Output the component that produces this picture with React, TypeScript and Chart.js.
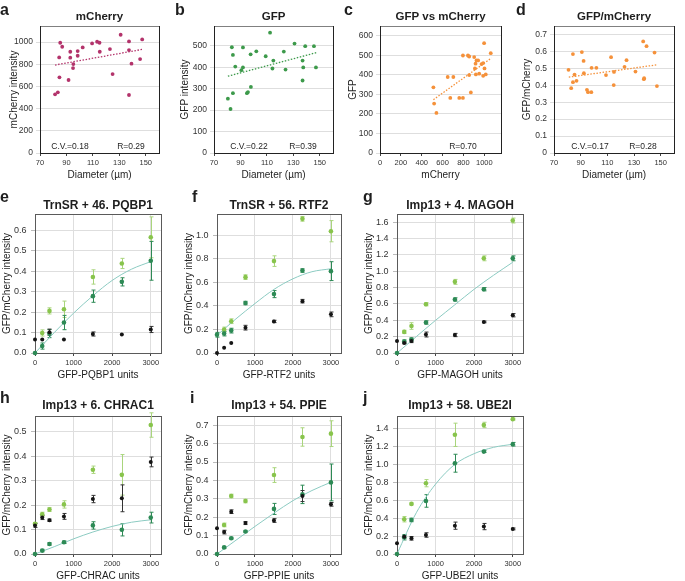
import React, { useEffect, useRef } from 'react';
import { Chart, registerables } from 'chart.js';

Chart.register(...registerables);

const FONT = "'Liberation Sans', Arial, Helvetica, sans-serif";
Chart.defaults.font.family = FONT;
Chart.defaults.color = '#333';

// ---------------- Row 1 data (single cells) ----------------
const diameterA = [81.4, 83.5, 85.3, 86.8, 84.5, 84.7, 91.6, 92.9, 92.9, 95.2, 95.0, 98.5, 98.5, 102.3, 109.4, 113.2, 115.0, 115.2, 122.9, 124.9, 131.0, 137.3, 137.3, 139.2, 137.3, 145.7, 147.3];
const mcherryA = [529, 547, 994, 958, 862, 682, 658, 913, 859, 802, 766, 919, 877, 952, 988, 1003, 994, 913, 937, 712, 1066, 1006, 928, 805, 523, 847, 1024];
const trendAx = [81.4, 147.3];
const trendAy = [793, 934];

const diameterB = [80.5, 82.5, 83.5, 84.3, 84.3, 86.1, 90.7, 91.9, 91.9, 94.9, 95.7, 97.7, 97.9, 102.0, 109.1, 112.4, 114.9, 114.2, 122.8, 124.1, 130.9, 137.0, 137.5, 137.0, 139.0, 145.6, 147.1];
const gfpB = [253, 205, 493, 457, 279, 403, 386, 399, 492, 279, 284, 460, 308, 474, 451, 561, 431, 394, 473, 389, 510, 431, 399, 338, 498, 498, 399];
const trendBx = [80.5, 147.5];
const trendBy = [358, 468];

const mcherryC = [512, 519, 541, 649, 674, 703, 760, 795, 795, 843, 855, 855, 871, 903, 910, 916, 925, 941, 919, 951, 973, 989, 998, 1002, 989, 1014, 1062];
const gfpC = [336, 253, 205, 389, 282, 389, 282, 282, 499, 499, 494, 399, 310, 491, 433, 457, 474, 474, 402, 406, 455, 460, 562, 433, 395, 402, 511];
const trendCx = [512, 1068];
const trendCy = [273, 486];

const diameterD = [80.9, 82.9, 84.2, 84.2, 85.4, 86.9, 90.9, 92.2, 92.4, 94.7, 95.5, 98.0, 98.2, 101.8, 109.0, 112.8, 114.8, 115.0, 122.9, 124.4, 131.1, 136.9, 137.4, 137.6, 139.4, 145.4, 147.2];
const ratioD = [0.491, 0.383, 0.584, 0.418, 0.463, 0.426, 0.596, 0.544, 0.471, 0.373, 0.359, 0.359, 0.503, 0.503, 0.460, 0.566, 0.401, 0.479, 0.509, 0.548, 0.481, 0.659, 0.436, 0.442, 0.631, 0.593, 0.395];
const trendDx = [81.1, 147.4];
const trendDy = [0.448, 0.521];

const diameterTicks = [70, 90, 110, 130, 150];
const mcherryTicks = [0, 200, 400, 600, 800, 1000];
const gfpTicksB = [0, 100, 200, 300, 400, 500];
const gfpTicksC = [0, 100, 200, 300, 400, 500, 600];
const ratioTicksD = [0, 0.1, 0.2, 0.3, 0.4, 0.5, 0.6, 0.7];

// ---------------- Rows 2-3 data (titrations) ----------------
const doses = [0, 187.5, 375, 750, 1500, 2250, 3000];
const curveX = [0, 500, 1000, 1500, 2000, 2500, 3000];
const unitTicks = [0, 1000, 2000, 3000];

const lightE = [null, 0.098, 0.206, 0.214, 0.372, 0.438, 0.566];
const errLightE = [0, 0.015, 0.015, 0.04, 0.035, 0.025, 0.1];
const darkE = [0, 0.034, 0.095, 0.149, 0.278, 0.348, 0.451];
const errDarkE = [0, 0.015, 0.02, 0.035, 0.03, 0.02, 0.095];
const blackE = [0.066, 0.066, 0.102, 0.066, 0.093, 0.09, 0.115];
const errBlackE = [0, 0, 0.015, 0, 0.01, 0, 0.015];
const curveE = [0, 0.1, 0.195, 0.28, 0.355, 0.41, 0.447];
const yTicksE = [0, 0.1, 0.2, 0.3, 0.4, 0.5, 0.6];

const lightF = [null, 0.2, 0.27, 0.644, 0.78, 1.139, 1.034];
const errLightF = [0, 0.02, 0.02, 0.02, 0.045, 0.02, 0.09];
const darkF = [0.155, 0.165, 0.19, 0.424, 0.5, 0.7, 0.695];
const errDarkF = [0.02, 0.02, 0.02, 0.015, 0.03, 0.015, 0.08];
const blackF = [0, 0.045, 0.085, 0.215, 0.268, 0.44, 0.328];
const errBlackF = [0, 0, 0, 0.02, 0.01, 0.015, 0.02];
const curveF = [0.15, 0.29, 0.42, 0.54, 0.63, 0.69, 0.715];
const yTicksF = [0, 0.2, 0.4, 0.6, 0.8, 1.0];

const lightG = [null, 0.258, 0.33, 0.597, 0.87, 1.158, 1.62];
const errLightG = [0, 0.02, 0.04, 0.02, 0.03, 0.03, 0.03];
const darkG = [0, 0.14, 0.165, 0.373, 0.655, 0.78, 1.158];
const errDarkG = [0, 0.02, 0.02, 0.02, 0.02, 0.02, 0.03];
const blackG = [0.147, 0.123, 0.147, 0.226, 0.22, 0.38, 0.462];
const errBlackG = [0, 0.01, 0.02, 0.03, 0.02, 0.01, 0.02];
const curveG = [0, 0.2, 0.4, 0.59, 0.78, 0.95, 1.11];
const yTicksG = [0, 0.2, 0.4, 0.6, 0.8, 1.0, 1.2, 1.4, 1.6];

const lightH = [0.124, 0.163, 0.182, 0.203, 0.345, 0.324, 0.528];
const errLightH = [0.005, 0.008, 0.008, 0.015, 0.015, 0.083, 0.05];
const darkH = [0, 0.014, 0.041, 0.048, 0.117, 0.099, 0.149];
const errDarkH = [0, 0.005, 0.005, 0.005, 0.015, 0.025, 0.022];
const blackH = [0.117, 0.149, 0.138, 0.154, 0.225, 0.228, 0.377];
const errBlackH = [0.008, 0.008, 0.005, 0.012, 0.015, 0.055, 0.02];
const curveH = [0, 0.03, 0.062, 0.09, 0.113, 0.13, 0.14];
const yTicksH = [0, 0.1, 0.2, 0.3, 0.4, 0.5];

const lightI = [null, 0.158, 0.315, 0.288, 0.429, 0.636, 0.654];
const errLightI = [0, 0.01, 0.01, 0.01, 0.04, 0.05, 0.07];
const darkI = [0, 0.036, 0.086, 0.122, 0.245, 0.324, 0.389];
const errDarkI = [0, 0.005, 0.005, 0.005, 0.03, 0.05, 0.1];
const blackI = [0.14, 0.119, 0.23, 0.168, 0.182, 0.315, 0.27];
const errBlackI = [0, 0.01, 0.01, 0.008, 0.01, 0.03, 0.01];
const curveI = [0, 0.075, 0.15, 0.222, 0.29, 0.345, 0.39];
const yTicksI = [0, 0.1, 0.2, 0.3, 0.4, 0.5, 0.6, 0.7];

const lightJ = [null, 0.388, 0.559, 0.79, 1.33, 1.44, 1.505];
const errLightJ = [0, 0.03, 0.01, 0.04, 0.13, 0.03, 0.01];
const darkJ = [0, 0.187, 0.38, 0.592, 1.013, 1.143, 1.225];
const errDarkJ = [0, 0.03, 0.02, 0.07, 0.1, 0.01, 0.02];
const blackJ = [0.12, 0.193, 0.175, 0.212, 0.316, 0.306, 0.28];
const errBlackJ = [0, 0.015, 0.02, 0.025, 0.04, 0.035, 0.01];
const curveJ = [0, 0.46, 0.78, 1.0, 1.12, 1.19, 1.225];
const yTicksJ = [0, 0.2, 0.4, 0.6, 0.8, 1.0, 1.2, 1.4];

// ---------------- styles ----------------
const C_MCH = '#b3336b';
const C_GFP = '#3d9a4b';
const C_ORANGE = '#f5913a';
const C_LIGHT = '#88c44c';
const C_LIGHT_ERR = '#a9d57c';
const C_DARK = '#2d8a55';
const C_BLACK = '#151515';
const C_FIT = '#8ccbc2';
const GRID = '#dedede';

type Txt = { t: string; x: number; y: number; f: string; al?: CanvasTextAlign; rot?: boolean };
type ErrSet = { ys: (number | null)[]; es: number[]; color: string };
interface Spec {
  box: number[];
  plot: number[];
  xMin: number; xMax: number; xTicks: number[];
  yMin: number; yMax: number; yTicks: number[];
  yFmt: (v: number) => string;
  row1: boolean;
  datasets: any[];
  errs: ErrSet[];
  texts: Txt[];
}

const pts = (xs: number[], ys: (number | null)[]) =>
  xs.map((x, i) => ({ x, y: ys[i] })).filter((p) => p.y !== null && p.y !== undefined);

const intFmt = (v: number) => String(Math.round(v));
const oneFmt = (v: number) => v.toFixed(1);
const ratioFmt = (v: number) => (v === 0 ? '0' : v.toFixed(1));

function row1Panel(o: {
  letter: string; letterX: number; title: string; xTitle: string; yTitle: string; yTitleX: number;
  box: number[]; plot: number[]; xs: number[]; ys: number[]; tx: number[]; ty: number[]; color: string;
  xMin: number; xMax: number; xTicks: number[]; yMax: number; yTicks: number[]; yFmt: (v: number) => string;
  stats: { t: string; x: number }[];
}): Spec {
  const [pl, pt, pr, pb] = o.plot;
  const cxm = (pl + pr) / 2;
  return {
    box: o.box, plot: o.plot, xMin: o.xMin, xMax: o.xMax, xTicks: o.xTicks,
    yMin: 0, yMax: o.yMax, yTicks: o.yTicks, yFmt: o.yFmt, row1: true,
    datasets: [
      { type: 'scatter', data: pts(o.xs, o.ys), backgroundColor: o.color, borderWidth: 0, pointRadius: 1.9, clip: false },
      { type: 'line', data: pts(o.tx, o.ty), borderColor: o.color, borderWidth: 1.3, borderDash: [1.5, 1.6], pointRadius: 0, fill: false, showLine: true },
    ],
    errs: [],
    texts: [
      { t: o.letter, x: o.letterX, y: 15, f: 'bold 16px' },
      { t: o.title, x: cxm, y: 20, f: 'bold 11.5px', al: 'center' },
      { t: o.xTitle, x: cxm, y: 178, f: '10px', al: 'center' },
      { t: o.yTitle, x: o.yTitleX, y: (pt + pb) / 2, f: '10px', rot: true },
      ...o.stats.map((s) => ({ t: s.t, x: s.x, y: 148.5, f: '8.5px', al: 'center' as CanvasTextAlign })),
    ],
  };
}

function titrPanel(o: {
  letter: string; letterX: number; title: string; xTitle: string; yTitleX: number;
  box: number[]; plot: number[]; yMax: number; yTicks: number[];
  light: (number | null)[]; errLight: number[]; dark: (number | null)[]; errDark: number[];
  black: (number | null)[]; errBlack: number[]; curve: number[];
  letterY: number; titleY: number; xTitleY: number;
}): Spec {
  const [pl, pt, pr, pb] = o.plot;
  const cxm = (pl + pr) / 2;
  return {
    box: o.box, plot: o.plot, xMin: 0, xMax: 3265, xTicks: unitTicks,
    yMin: 0, yMax: o.yMax, yTicks: o.yTicks, yFmt: oneFmt, row1: false,
    datasets: [
      { type: 'scatter', data: pts(doses, o.black), backgroundColor: C_BLACK, borderWidth: 0, pointRadius: 2, clip: false },
      { type: 'scatter', data: pts(doses, o.dark), backgroundColor: C_DARK, borderWidth: 0, pointRadius: 2.3, clip: false },
      { type: 'scatter', data: pts(doses, o.light), backgroundColor: C_LIGHT, borderWidth: 0, pointRadius: 2.3, clip: false },
      { type: 'line', data: pts(curveX, o.curve), borderColor: C_FIT, borderWidth: 1, pointRadius: 0, fill: false, showLine: true, cubicInterpolationMode: 'monotone' },
    ],
    errs: [
      { ys: o.light, es: o.errLight, color: C_LIGHT_ERR },
      { ys: o.dark, es: o.errDark, color: C_DARK },
      { ys: o.black, es: o.errBlack, color: '#333' },
    ],
    texts: [
      { t: o.letter, x: o.letterX, y: o.letterY, f: 'bold 16px' },
      { t: o.title, x: cxm, y: o.titleY, f: 'bold 12px', al: 'center' },
      { t: o.xTitle, x: cxm, y: o.xTitleY, f: '10px', al: 'center' },
      { t: 'GFP/mCherry intensity', x: o.yTitleX, y: (pt + pb) / 2, f: '10px', rot: true },
    ],
  };
}

const SPECS: Spec[] = [
  row1Panel({ letter: 'a', letterX: 0, title: 'mCherry', xTitle: 'Diameter (µm)', yTitle: 'mCherry intensity', yTitleX: 16.5,
    box: [0, 0, 170, 182], plot: [40, 26, 159, 153], xs: diameterA, ys: mcherryA, tx: trendAx, ty: trendAy, color: C_MCH,
    xMin: 70, xMax: 160, xTicks: diameterTicks, yMax: 1145, yTicks: mcherryTicks, yFmt: intFmt,
    stats: [{ t: 'C.V.=0.18', x: 70 }, { t: 'R=0.29', x: 131 }] }),
  row1Panel({ letter: 'b', letterX: 175, title: 'GFP', xTitle: 'Diameter (µm)', yTitle: 'GFP intensity', yTitleX: 188,
    box: [170, 0, 170, 182], plot: [214, 26, 333, 153], xs: diameterB, ys: gfpB, tx: trendBx, ty: trendBy, color: C_GFP,
    xMin: 70, xMax: 160, xTicks: diameterTicks, yMax: 592, yTicks: gfpTicksB, yFmt: intFmt,
    stats: [{ t: 'C.V.=0.22', x: 249 }, { t: 'R=0.39', x: 303 }] }),
  row1Panel({ letter: 'c', letterX: 344, title: 'GFP vs mCherry', xTitle: 'mCherry', yTitle: 'GFP', yTitleX: 355.5,
    box: [340, 0, 172, 182], plot: [380, 26, 501, 153], xs: mcherryC, ys: gfpC, tx: trendCx, ty: trendCy, color: C_ORANGE,
    xMin: 0, xMax: 1160, xTicks: mcherryTicks, yMax: 650, yTicks: gfpTicksC, yFmt: intFmt,
    stats: [{ t: 'R=0.70', x: 463 }] }),
  row1Panel({ letter: 'd', letterX: 516, title: 'GFP/mCherry', xTitle: 'Diameter (µm)', yTitle: 'GFP/mCherry', yTitleX: 530,
    box: [512, 0, 173, 182], plot: [554, 26, 674, 153], xs: diameterD, ys: ratioD, tx: trendDx, ty: trendDy, color: C_ORANGE,
    xMin: 70, xMax: 160, xTicks: diameterTicks, yMax: 0.75, yTicks: ratioTicksD, yFmt: ratioFmt,
    stats: [{ t: 'C.V.=0.17', x: 590 }, { t: 'R=0.28', x: 643 }] }),

  titrPanel({ letter: 'e', letterX: 0, title: 'TrnSR + 46. PQBP1', xTitle: 'GFP-PQBP1 units', yTitleX: 10,
    box: [0, 182, 178, 200], plot: [35, 214, 161, 353], yMax: 0.68, yTicks: yTicksE,
    light: lightE, errLight: errLightE, dark: darkE, errDark: errDarkE, black: blackE, errBlack: errBlackE, curve: curveE,
    letterY: 201.5, titleY: 208.5, xTitleY: 377.5 }),
  titrPanel({ letter: 'f', letterX: 192, title: 'TrnSR + 56. RTF2', xTitle: 'GFP-RTF2 units', yTitleX: 191.5,
    box: [178, 182, 180, 200], plot: [217, 214, 341, 353], yMax: 1.18, yTicks: yTicksF,
    light: lightF, errLight: errLightF, dark: darkF, errDark: errDarkF, black: blackF, errBlack: errBlackF, curve: curveF,
    letterY: 201.5, titleY: 208.5, xTitleY: 377.5 }),
  titrPanel({ letter: 'g', letterX: 363, title: 'Imp13 + 4. MAGOH', xTitle: 'GFP-MAGOH units', yTitleX: 372,
    box: [358, 182, 187, 200], plot: [397, 214, 523, 353], yMax: 1.7, yTicks: yTicksG,
    light: lightG, errLight: errLightG, dark: darkG, errDark: errDarkG, black: blackG, errBlack: errBlackG, curve: curveG,
    letterY: 201.5, titleY: 208.5, xTitleY: 377.5 }),

  titrPanel({ letter: 'h', letterX: 0, title: 'Imp13 + 6. CHRAC1', xTitle: 'GFP-CHRAC units', yTitleX: 10,
    box: [0, 382, 178, 199], plot: [35, 416, 161, 554], yMax: 0.565, yTicks: yTicksH,
    light: lightH, errLight: errLightH, dark: darkH, errDark: errDarkH, black: blackH, errBlack: errBlackH, curve: curveH,
    letterY: 403, titleY: 409, xTitleY: 579 }),
  titrPanel({ letter: 'i', letterX: 190, title: 'Imp13 + 54. PPIE', xTitle: 'GFP-PPIE units', yTitleX: 191.5,
    box: [178, 382, 180, 199], plot: [217, 416, 341, 554], yMax: 0.75, yTicks: yTicksI,
    light: lightI, errLight: errLightI, dark: darkI, errDark: errDarkI, black: blackI, errBlack: errBlackI, curve: curveI,
    letterY: 403, titleY: 409, xTitleY: 579 }),
  titrPanel({ letter: 'j', letterX: 363, title: 'Imp13 + 58. UBE2I', xTitle: 'GFP-UBE2I units', yTitleX: 372,
    box: [358, 382, 187, 199], plot: [397, 416, 523, 554], yMax: 1.54, yTicks: yTicksJ,
    light: lightJ, errLight: errLightJ, dark: darkJ, errDark: errDarkJ, black: blackJ, errBlack: errBlackJ, curve: curveJ,
    letterY: 403, titleY: 409, xTitleY: 579 }),
];

function buildConfig(s: Spec): any {
  const [cx, cy, cw, ch] = s.box;
  const [pl, pt, pr, pb] = s.plot;
  const overlay = {
    id: 'overlay',
    beforeDatasetsDraw(chart: any) {
      const ctx = chart.ctx;
      const a = chart.chartArea;
      ctx.save();
      ctx.lineWidth = 1;
      ctx.strokeStyle = s.row1 ? '#808080' : '#5a5a5a';
      ctx.strokeRect(a.left + 0.5, a.top + 0.5, a.right - a.left, a.bottom - a.top);
      if (s.row1) {
        ctx.strokeStyle = '#222';
        ctx.beginPath();
        ctx.moveTo(a.left, a.bottom + 0.5);
        ctx.lineTo(a.right + 1, a.bottom + 0.5);
        ctx.moveTo(a.left + 0.5, a.top);
        ctx.lineTo(a.left + 0.5, a.bottom + 1);
        ctx.moveTo(a.right + 0.5, a.top);
        ctx.lineTo(a.right + 0.5, a.bottom + 1);
        ctx.stroke();
      }
      const xs = chart.scales.x;
      const ys = chart.scales.y;
      for (const e of s.errs) {
        ctx.strokeStyle = e.color;
        ctx.lineWidth = 1;
        e.ys.forEach((v, i) => {
          const er = e.es[i];
          if (v === null || v === undefined || !er) return;
          const px = Math.round(xs.getPixelForValue(doses[i])) + 0.5;
          const y1 = ys.getPixelForValue(v + er);
          const y2 = ys.getPixelForValue(Math.max(0, v - er));
          ctx.beginPath();
          ctx.moveTo(px, y1);
          ctx.lineTo(px, y2);
          ctx.moveTo(px - 2, y1);
          ctx.lineTo(px + 2, y1);
          ctx.moveTo(px - 2, y2);
          ctx.lineTo(px + 2, y2);
          ctx.stroke();
        });
      }
      ctx.restore();
    },
    afterDraw(chart: any) {
      const ctx = chart.ctx;
      ctx.save();
      ctx.fillStyle = '#1e1e1e';
      ctx.textBaseline = 'alphabetic';
      for (const t of s.texts) {
        ctx.font = `${t.f} ${FONT}`;
        if (t.rot) {
          ctx.save();
          ctx.translate(t.x - cx, t.y - cy);
          ctx.rotate(-Math.PI / 2);
          ctx.textAlign = 'center';
          ctx.fillText(t.t, 0, 0);
          ctx.restore();
        } else {
          ctx.textAlign = t.al || 'left';
          ctx.fillText(t.t, t.x - cx, t.y - cy);
        }
      }
      ctx.restore();
    },
  };

  return {
    type: 'scatter',
    data: { datasets: s.datasets },
    options: {
      animation: false,
      responsive: false,
      maintainAspectRatio: false,
      events: [],
      layout: { padding: { left: 0, top: pt - cy, right: cx + cw - pr, bottom: 0 } },
      plugins: { legend: { display: false }, tooltip: { enabled: false }, title: { display: false } },
      scales: {
        x: {
          type: 'linear',
          min: s.xMin,
          max: s.xMax,
          afterBuildTicks: (sc: any) => { sc.ticks = s.xTicks.map((v) => ({ value: v })); },
          afterFit: (sc: any) => { sc.height = cy + ch - pb; sc.paddingLeft = 0; sc.paddingRight = 0; },
          border: { display: false },
          grid: { color: s.row1 ? 'rgba(0,0,0,0)' : GRID, tickColor: '#444', tickLength: 3, lineWidth: 1 },
          ticks: { autoSkip: false, maxRotation: 0, minRotation: 0, padding: 2, color: '#333', font: { size: 7.5 }, callback: (v: any) => intFmt(Number(v)) },
        },
        y: {
          type: 'linear',
          min: s.yMin,
          max: s.yMax,
          afterBuildTicks: (sc: any) => { sc.ticks = s.yTicks.map((v) => ({ value: v })); },
          afterFit: (sc: any) => { sc.width = pl - cx; sc.paddingTop = 0; sc.paddingBottom = 0; },
          border: { display: false },
          grid: { color: GRID, tickColor: s.row1 ? GRID : '#bbb', tickLength: 4, lineWidth: 1 },
          ticks: { autoSkip: false, padding: s.row1 ? 3 : 4.5, color: '#333', font: { size: s.row1 ? 8.5 : 9 }, callback: (v: any) => s.yFmt(Number(v)) },
        },
      },
    },
    plugins: [overlay],
  };
}

function Panel({ spec }: { spec: Spec }) {
  const ref = useRef<HTMLCanvasElement>(null);
  useEffect(() => {
    if (!ref.current) return;
    const chart = new Chart(ref.current, buildConfig(spec));
    return () => chart.destroy();
  }, [spec]);
  const [cx, cy, cw, ch] = spec.box;
  return (
    <canvas
      ref={ref}
      width={cw}
      height={ch}
      style={{ position: 'absolute', left: cx, top: cy, width: cw, height: ch }}
    />
  );
}

export default function App() {
  return (
    <div style={{ position: 'absolute', left: 0, top: 0, width: 685, height: 581, background: '#fff', overflow: 'hidden' }}>
      {SPECS.map((s, i) => (
        <Panel key={i} spec={s} />
      ))}
    </div>
  );
}
